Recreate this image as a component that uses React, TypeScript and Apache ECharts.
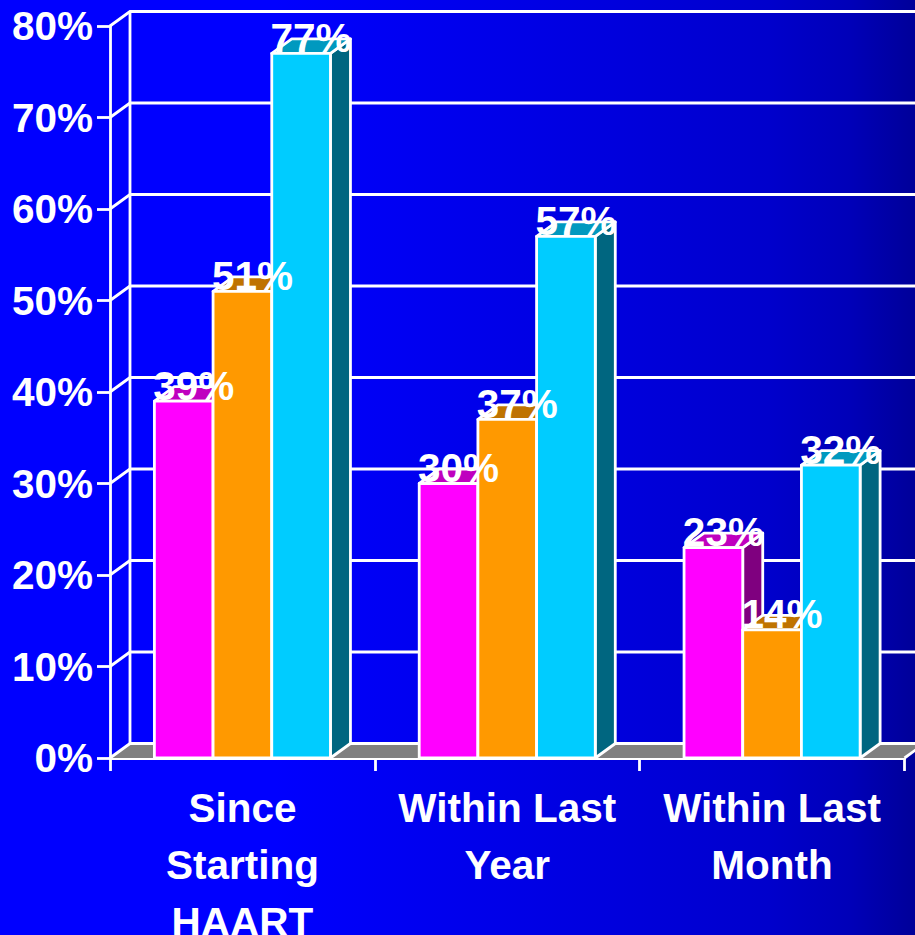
import React, { useEffect, useRef } from "react";
import * as echarts from "echarts";

const categories = ["Since\nStarting\nHAART", "Within Last\nYear", "Within Last\nMonth"];
const magentaValues = [39, 30, 23];
const orangeValues = [51, 37, 14];
const cyanValues = [77, 57, 32];
const yTicks = [0, 10, 20, 30, 40, 50, 60, 70, 80];

const magentaShades = ["#ff00ff", "#bf00bf", "#7f007f"];
const orangeShades = ["#ff9900", "#bf7300", "#7f4c00"];
const cyanShades = ["#00ccff", "#0099bf", "#006680"];

const DEPTH_X = 20;
const DEPTH_Y = 14.5;
const LINE = 2.8;
const FONT_FAMILY = '"Liberation Sans", Arial, sans-serif';
const FONT_SIZE = 40.5;
const FONT = `bold ${FONT_SIZE}px ${FONT_FAMILY}`;
const BAR_RATIO = 0.2216;

// Back wall, floor and the oblique lines that tie the front axis to the wall.
function renderWall(params: any, api: any) {
  const value = api.value(1);
  const y = api.coord([0, value])[1];
  const sys = params.coordSys;
  const left = sys.x;
  const right = sys.x + sys.width;
  const line = { stroke: "#fff", lineWidth: LINE, fill: "none" };
  const children: any[] = [
    {
      type: "polyline",
      shape: {
        points: [
          [left, y],
          [left + DEPTH_X, y - DEPTH_Y],
          [right + DEPTH_X, y - DEPTH_Y],
        ],
      },
      style: line,
    },
  ];
  if (value === 0) {
    children.unshift({
      type: "polygon",
      shape: {
        points: [
          [left, y],
          [left + DEPTH_X, y - DEPTH_Y],
          [right + DEPTH_X, y - DEPTH_Y],
          [right, y],
        ],
      },
      style: { fill: "#808080" },
    });
    children.push({
      type: "line",
      shape: { x1: right, y1: y, x2: right + DEPTH_X, y2: y - DEPTH_Y },
      style: line,
    });
    children.push({
      type: "line",
      shape: {
        x1: left + DEPTH_X,
        y1: y - DEPTH_Y,
        x2: left + DEPTH_X,
        y2: sys.y - DEPTH_Y,
      },
      style: line,
    });
  }
  return { type: "group", children };
}

// One extruded bar: side face, top face, then the front face.
function barRenderer(slot: number, shades: string[]) {
  return (_params: any, api: any) => {
    const cat = api.value(0);
    const [cx, top] = api.coord([cat, api.value(1)]);
    const [, base] = api.coord([cat, 0]);
    const width = api.size([1, 0])[0] * BAR_RATIO;
    const x0 = cx + (slot - 1.5) * width;
    const x1 = x0 + width;
    const edge = { stroke: "#fff", lineWidth: LINE, lineJoin: "round" };
    return {
      type: "group",
      children: [
        {
          type: "polygon",
          shape: {
            points: [
              [x1, top],
              [x1 + DEPTH_X, top - DEPTH_Y],
              [x1 + DEPTH_X, base - DEPTH_Y],
              [x1, base],
            ],
          },
          style: { fill: shades[2], ...edge },
        },
        {
          type: "polygon",
          shape: {
            points: [
              [x0, top],
              [x0 + DEPTH_X, top - DEPTH_Y],
              [x1 + DEPTH_X, top - DEPTH_Y],
              [x1, top],
            ],
          },
          style: { fill: shades[1], ...edge },
        },
        {
          type: "rect",
          shape: { x: x0, y: top, width, height: base - top },
          style: { fill: shades[0], ...edge },
        },
      ],
    };
  };
}

// Value captions sit above every bar, so they run over neighbouring faces.
function labelRenderer(slot: number) {
  return (_params: any, api: any) => {
    const cat = api.value(0);
    const value = api.value(1);
    const [cx, top] = api.coord([cat, value]);
    const width = api.size([1, 0])[0] * BAR_RATIO;
    const x = cx + (slot - 1) * width + DEPTH_X / 2;
    return {
      type: "text",
      x,
      y: top + 5,
      style: {
        text: `${value}%`,
        fill: "#fff",
        font: FONT,
        textAlign: "center",
        textVerticalAlign: "bottom",
      },
    };
  };
}

const toPairs = (values: number[]) => values.map((v, i) => [i, v]);

function barSeries(slot: number, values: number[], shades: string[]) {
  return {
    type: "custom",
    z: 3 + slot,
    silent: true,
    renderItem: barRenderer(slot, shades),
    encode: { x: 0, y: 1 },
    data: toPairs(values),
  };
}

function labelSeries(slot: number, values: number[]) {
  return {
    type: "custom",
    z: 10,
    silent: true,
    renderItem: labelRenderer(slot),
    encode: { x: 0, y: 1 },
    data: toPairs(values),
  };
}

export default function App() {
  const ref = useRef<HTMLDivElement>(null);

  useEffect(() => {
    document.body.style.margin = "0";
    document.body.style.overflow = "hidden";
    const chart = echarts.init(ref.current!, null, { renderer: "svg" });
    const axisLine = { show: true, lineStyle: { color: "#fff", width: LINE } };
    chart.setOption({
      animation: false,
      backgroundColor: {
        type: "linear",
        x: 0,
        y: 0,
        x2: 1,
        y2: 0,
        colorStops: [
          { offset: 0, color: "#0000ff" },
          { offset: 0.3, color: "#0000ff" },
          { offset: 0.67, color: "#0000dd" },
          { offset: 0.84, color: "#0000cc" },
          { offset: 0.93, color: "#0000b8" },
          { offset: 1, color: "#000099" },
        ],
      },
      grid: {
        left: 110,
        right: 10.5,
        top: 26,
        height: 732,
        containLabel: false,
        outerBoundsMode: "none",
      },
      xAxis: {
        type: "category",
        data: categories,
        boundaryGap: true,
        axisLine: { ...axisLine, onZero: false },
        axisTick: { show: true, length: 13, alignWithLabel: false, lineStyle: { color: "#fff", width: LINE } },
        axisLabel: {
          color: "#fff",
          fontFamily: FONT_FAMILY,
          fontWeight: "bold",
          fontSize: FONT_SIZE,
          lineHeight: 57,
          margin: 21,
          interval: 0,
          hideOverlap: false,
        },
        splitLine: { show: false },
      },
      yAxis: {
        type: "value",
        min: 0,
        max: 80,
        interval: 10,
        axisLine,
        axisTick: { show: true, length: 13, lineStyle: { color: "#fff", width: LINE } },
        axisLabel: {
          color: "#fff",
          formatter: "{value}%",
          fontFamily: FONT_FAMILY,
          fontWeight: "bold",
          fontSize: FONT_SIZE,
          margin: 17,
        },
        splitLine: { show: false },
      },
      series: [
        {
          type: "custom",
          z: 1,
          silent: true,
          renderItem: renderWall,
          encode: { x: 0, y: 1 },
          data: yTicks.map((v) => [0, v]),
        },
        barSeries(0, magentaValues, magentaShades),
        barSeries(1, orangeValues, orangeShades),
        barSeries(2, cyanValues, cyanShades),
        labelSeries(0, magentaValues),
        labelSeries(1, orangeValues),
        labelSeries(2, cyanValues),
      ],
    });
    return () => chart.dispose();
  }, []);

  return <div ref={ref} style={{ width: 915, height: 935 }} />;
}
